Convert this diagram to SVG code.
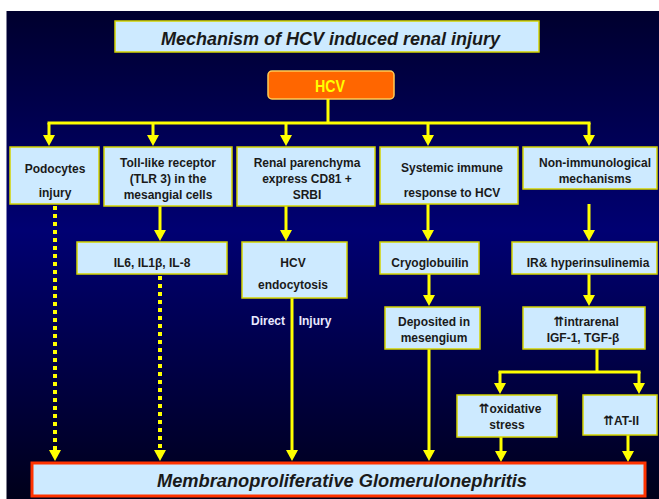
<svg xmlns="http://www.w3.org/2000/svg" width="659" height="499" viewBox="0 0 659 499">
<defs>
<linearGradient id="bg" x1="0" y1="0" x2="0" y2="1">
<stop offset="0" stop-color="#00002e"/>
<stop offset="0.45" stop-color="#000072"/>
<stop offset="1" stop-color="#00001a"/>
</linearGradient>
<marker id="ah" viewBox="0 0 11 12" refX="1" refY="6" markerWidth="11" markerHeight="12" markerUnits="userSpaceOnUse" orient="auto">
<path d="M0,0 L11,6 L0,12 z" fill="#ffff00"/>
</marker>
</defs>
<style>
.box{fill:#cdeaff;stroke:#d4d400;stroke-width:1.5}
.t{font-family:"Liberation Sans",Arial,sans-serif;font-weight:bold;font-size:12px;fill:#1a1a1a;text-anchor:middle}
.ti{font-family:"Liberation Sans",Arial,sans-serif;font-weight:bold;font-style:italic;font-size:18px;fill:#1a1a1a}
.up{font-family:"DejaVu Sans",sans-serif;font-weight:bold;font-size:13px}
.c{stroke:#ffff00;stroke-width:3;fill:none}
.d{stroke:#ffff00;stroke-width:4;fill:none;stroke-dasharray:4 4}
.a{marker-end:url(#ah)}
</style>
<rect x="0" y="0" width="659" height="499" fill="#ffffff"/>
<rect x="6.5" y="11" width="652.5" height="488" fill="url(#bg)"/>

<g id="title">
<rect x="115" y="21" width="424" height="31" class="box" stroke="#e0e000"/>
<text x="161" y="45" class="ti" textLength="339" lengthAdjust="spacingAndGlyphs">Mechanism of HCV induced renal injury</text>
</g>

<g id="hcv">
<rect x="268" y="71" width="126" height="28" rx="4" fill="#ff6600" stroke="#ffcc55" stroke-width="1.5"/>
<text x="330" y="92" font-family="Liberation Sans,Arial,sans-serif" font-weight="bold" font-size="16" fill="#ffff00" text-anchor="middle" textLength="30" lengthAdjust="spacingAndGlyphs">HCV</text>
</g>

<g id="connectors">
<path class="c" d="M328,99 V123 M47.5,123 H590.5"/>
<line class="c a" x1="49" y1="123" x2="49" y2="136"/>
<line class="c a" x1="153" y1="123" x2="153" y2="136"/>
<line class="c a" x1="286" y1="123" x2="286" y2="136"/>
<line class="c a" x1="428" y1="123" x2="428" y2="136"/>
<line class="c a" x1="589" y1="123" x2="589" y2="136"/>
<line class="d a" x1="55" y1="206" x2="55" y2="451"/>
<line class="c a" x1="160" y1="206" x2="160" y2="231"/>
<line class="d a" x1="160" y1="276" x2="160" y2="451"/>
<line class="c a" x1="286" y1="206" x2="286" y2="231"/>
<line class="c a" x1="292" y1="298" x2="292" y2="451"/>
<line class="c a" x1="428" y1="204" x2="428" y2="231"/>
<line class="c a" x1="589" y1="204" x2="589" y2="231"/>
<line class="c a" x1="429" y1="274" x2="429" y2="296"/>
<line class="c a" x1="589" y1="274" x2="589" y2="296"/>
<line class="c a" x1="429" y1="349" x2="429" y2="451"/>
<path class="c" d="M597,349 V372 M498.5,372 H640.5"/>
<line class="c a" x1="500" y1="372" x2="500" y2="384"/>
<line class="c a" x1="639" y1="372" x2="639" y2="384"/>
<line class="c a" x1="501" y1="437" x2="501" y2="452"/>
<line class="c a" x1="628" y1="435" x2="628" y2="452"/>
</g>

<g id="podocytes">
<rect x="10" y="147" width="89" height="57" class="box"/>
<text x="55" y="172.5" class="t">Podocytes</text>
<text x="55" y="197" class="t">injury</text>
</g>

<g id="tlr3">
<rect x="104" y="147" width="128" height="59" class="box"/>
<text x="168" y="166.7" class="t">Toll-like receptor</text>
<text x="168" y="183.3" class="t">(TLR 3) in the</text>
<text x="168" y="199.3" class="t">mesangial cells</text>
</g>

<g id="renal">
<rect x="237" y="147" width="138" height="59" class="box"/>
<text x="307" y="166.7" class="t">Renal parenchyma</text>
<text x="307" y="183.3" class="t">express CD81 +</text>
<text x="307" y="199.3" class="t">SRBI</text>
</g>

<g id="systemic">
<rect x="380" y="147" width="138" height="57" class="box"/>
<text x="452" y="171.7" class="t">Systemic immune</text>
<text x="452" y="196.7" class="t">response to HCV</text>
</g>

<g id="nonimmuno">
<rect x="523" y="147" width="134" height="42" class="box"/>
<text x="595" y="166.7" class="t">Non-immunological</text>
<text x="595" y="183.3" class="t">mechanisms</text>
</g>

<g id="il">
<rect x="77" y="242" width="150" height="32" class="box"/>
<text x="152" y="267" class="t">IL6, IL1β, IL-8</text>
</g>

<g id="endocytosis">
<rect x="242" y="242" width="105" height="56" class="box"/>
<text x="293" y="267" class="t">HCV</text>
<text x="293" y="289" class="t">endocytosis</text>
</g>

<g id="direct">
<text x="268" y="325" class="t" style="fill:#e8e8ff">Direct</text>
<text x="315" y="325" class="t" style="fill:#e8e8ff">Injury</text>
</g>

<g id="cryo">
<rect x="380" y="242" width="99" height="32" class="box"/>
<text x="430" y="267.3" class="t">Cryoglobuilin</text>
</g>

<g id="ir">
<rect x="512" y="242" width="145" height="32" class="box"/>
<text x="588" y="267.3" class="t">IR&amp; hyperinsulinemia</text>
</g>

<g id="deposited">
<rect x="385" y="307" width="95" height="42" class="box"/>
<text x="434" y="325.7" class="t">Deposited in</text>
<text x="434" y="341.7" class="t">mesengium</text>
</g>

<g id="intrarenal">
<rect x="523" y="307" width="122" height="42" class="box"/>
<text x="586" y="325.7" class="t"><tspan class="up">⇈</tspan>intrarenal</text>
<text x="583" y="341.7" class="t">IGF-1, TGF-β</text>
</g>

<g id="oxidative">
<rect x="457" y="395" width="100" height="42" class="box"/>
<text x="510" y="413" class="t"><tspan class="up">⇈</tspan>oxidative</text>
<text x="507" y="429.3" class="t">stress</text>
</g>

<g id="at2">
<rect x="583" y="395" width="74" height="40" class="box"/>
<text x="621" y="425" class="t"><tspan class="up">⇈</tspan>AT-II</text>
</g>

<g id="mpgn">
<rect x="32" y="463" width="613" height="33" fill="#cdeaff" stroke="#ff3300" stroke-width="3"/>
<text x="157" y="486.5" class="ti" textLength="370" lengthAdjust="spacingAndGlyphs">Membranoproliferative Glomerulonephritis</text>
</g>
</svg>
